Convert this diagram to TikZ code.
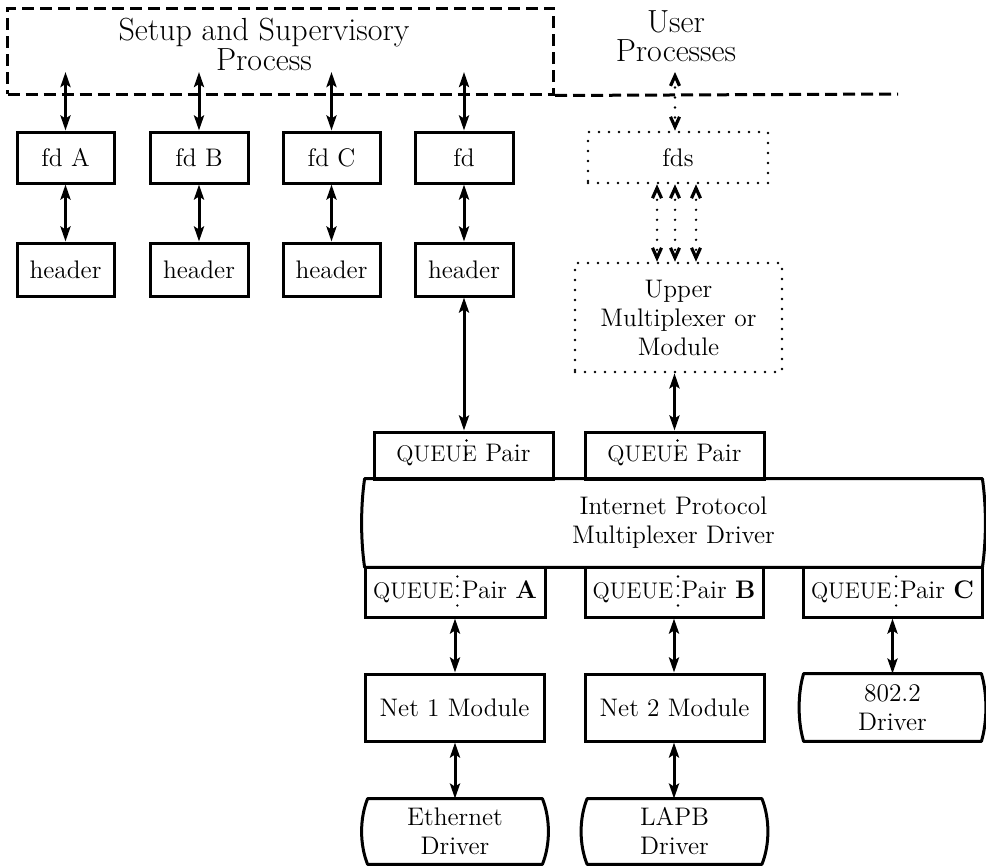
\documentclass[tikz,border=0pt]{standalone}
\usetikzlibrary{arrows.meta,calc}
\newcommand\drvshape[3]{\draw[line width=1.5pt,line join=round] (#1.north west) -- (#1.north east) .. controls +(#2,-#3) and +(#2,#3) .. (#1.south east) -- (#1.south west) .. controls +(-#2,#3) and +(-#2,-#3) .. (#1.north west) -- cycle;}
\newcommand\qq{{\fontsize{11.3}{12}\selectfont QUEUE}}
\begin{document}
\begin{tikzpicture}[x=0.5pt,y=-0.5pt,
  box/.style={draw,line width=1.5pt,inner sep=0pt,align=center,font=\fontsize{12.7}{14.5}\selectfont},
  plainbox/.style={draw=none,inner sep=0pt,align=center,font=\fontsize{12.7}{14.5}\selectfont},
  dotbox/.style={draw,line width=1.3pt,dash pattern=on 0pt off 5pt,line cap=round,inner sep=0pt,align=center,font=\fontsize{12.7}{14.5}\selectfont},
  dashbox/.style={draw,line width=1.5pt,dash pattern=on 6pt off 3pt,inner sep=0pt},
  bigtext/.style={inner sep=0pt,align=center},
  biarrow/.style={line width=1.5pt,{Stealth[length=7.5pt,width=5pt,inset=1.5pt]}-{Stealth[length=7.5pt,width=5pt,inset=1.5pt]}},
  dotarrow/.style={line width=1.3pt,dash pattern=on 0pt off 5pt,line cap=round,{Straight Barb[length=5pt,width=4.5pt,line width=1.6pt]}-{Straight Barb[length=5pt,width=4.5pt,line width=1.6pt]}},
  dashline/.style={line width=1.5pt,dash pattern=on 6pt off 3pt},
  divup/.style={line width=1.3pt,line cap=round,dash pattern=on 0pt off 7pt},
  divlow/.style={line width=1.3pt,line cap=round,dash pattern=on 0pt off 4.83pt}
]
\useasboundingbox (0,0) rectangle (986,867);

% top region
\node[dashbox,minimum width=273pt,minimum height=43pt] (setup) at (280.5,51) {};
\node[bigtext,font=\fontsize{16}{15}\selectfont] (setuptxt) at (264,44) {Setup and Supervisory\\Process};
\node[bigtext,font=\fontsize{16}{14.5}\selectfont] (usertxt) at (676,36) {User\\Processes};
\coordinate (dend) at (898,94);
\draw[dashline] (setup.south east) -- (dend);

% fd boxes
\node[box,minimum width=48.5pt,minimum height=25.5pt] (fdA) at (65.5,157.5) {fd A};
\node[box,minimum width=49pt,minimum height=25.5pt] (fdB) at (199,157.5) {fd B};
\node[box,minimum width=48.5pt,minimum height=25.5pt] (fdC) at (331.5,157.5) {fd C};
\node[box,minimum width=49pt,minimum height=25.5pt] (fdD) at (464,157.5) {fd};
\node[box,minimum width=48.5pt,minimum height=26.5pt] (hdA) at (65.5,269.5) {header};
\node[box,minimum width=49pt,minimum height=26.5pt] (hdB) at (199,269.5) {header};
\node[box,minimum width=48.5pt,minimum height=26.5pt] (hdC) at (331.5,269.5) {header};
\node[box,minimum width=49pt,minimum height=26.5pt] (hdD) at (464,269.5) {header};

\node[dotbox,minimum width=90pt,minimum height=25.5pt] (fds) at (678,157.5) {fds};
\node[dotbox,minimum width=103.5pt,minimum height=54.5pt] (upper) at (678.5,317.5) {Upper\\Multiplexer or\\Module};

% queue pairs and IP
\node[box,minimum width=89.5pt,minimum height=23.5pt] (qp1) at (463.5,455.5) {\qq\ Pair};
\node[box,minimum width=89.5pt,minimum height=23.5pt] (qp2) at (674.5,455.5) {\qq\ Pair};
\node[plainbox,minimum width=308.5pt,minimum height=44pt] (ip) at (673.5,523) {Internet Protocol\\Multiplexer Driver};
\drvshape{ip}{2pt}{14pt}
\node[box,minimum width=90pt,minimum height=25pt] (qa) at (455,592) {\qq\ Pair \textbf{A}};
\node[box,minimum width=89pt,minimum height=25pt] (qb) at (674,592) {\qq\ Pair \textbf{B}};
\node[box,minimum width=89.5pt,minimum height=25pt] (qc) at (892.5,592) {\qq\ Pair \textbf{C}};

% dotted dividers
\draw[divup] ([xshift=1.5pt,yshift=-5pt]qp1.north) -- ([xshift=1.5pt,yshift=-19pt]qp1.north);
\draw[divup] ([xshift=1.5pt,yshift=-5pt]qp2.north) -- ([xshift=1.5pt,yshift=-19pt]qp2.north);
\draw[divlow] ([xshift=1.2pt,yshift=-5.5pt]qa.north) -- ([xshift=1.2pt,yshift=-20pt]qa.north);
\draw[divlow] ([xshift=2pt,yshift=-5.5pt]qb.north) -- ([xshift=2pt,yshift=-20pt]qb.north);
\draw[divlow] ([xshift=1.8pt,yshift=-5.5pt]qc.north) -- ([xshift=1.8pt,yshift=-20pt]qc.north);

% modules and drivers
\node[box,minimum width=89.5pt,minimum height=33.5pt] (net1) at (454.5,707.5) {Net 1 Module};
\node[box,minimum width=89.5pt,minimum height=33.5pt] (net2) at (674.5,707.5) {Net 2 Module};
\node[plainbox,minimum width=88.5pt,minimum height=33.5pt] (drvC) at (892.5,707.5) {802.2\\Driver};
\drvshape{drvC}{3pt}{10pt}
\node[plainbox,minimum width=87pt,minimum height=32.5pt] (eth) at (455,831.5) {Ethernet\\Driver};
\drvshape{eth}{4pt}{10pt}
\node[plainbox,minimum width=87pt,minimum height=32.5pt] (lapb) at (674.5,831.5) {LAPB\\Driver};
\drvshape{lapb}{4pt}{10pt}

% connectors
\coordinate (sA) at (65.5,72);
\coordinate (sB) at (199,72);
\coordinate (sC) at (331.5,72);
\coordinate (sD) at (464,72);
\coordinate (su) at (675,72);
\draw[biarrow] (sA) -- (fdA.north);
\draw[biarrow] (sB) -- (fdB.north);
\draw[biarrow] (sC) -- (fdC.north);
\draw[biarrow] (sD) -- (fdD.north);
\draw[biarrow] (fdA) -- (hdA);
\draw[biarrow] (fdB) -- (hdB);
\draw[biarrow] (fdC) -- (hdC);
\draw[biarrow] (fdD) -- (hdD);
\draw[biarrow] (hdD.south) -- (hdD.south |- qp1.north);
\draw[dotarrow] (su) -- (su |- fds.north);
\draw[dotarrow] ([xshift=-10.5pt]fds.south) -- ([xshift=-10.5pt]fds.south |- upper.north);
\draw[dotarrow] ([xshift=-1.5pt]fds.south) -- ([xshift=-1.5pt]fds.south |- upper.north);
\draw[dotarrow] ([xshift=9pt]fds.south) -- ([xshift=9pt]fds.south |- upper.north);
\draw[biarrow] (qp2.north |- upper.south) -- (qp2.north);
\draw[biarrow] (qa.south) -- (qa.south |- net1.north);
\draw[biarrow] (qa.south |- net1.south) -- (qa.south |- eth.north);
\draw[biarrow] (qb.south) -- (qb.south |- net2.north);
\draw[biarrow] (qb.south |- net2.south) -- (qb.south |- lapb.north);
\draw[biarrow] (qc.south) -- (qc.south |- drvC.north);
\end{tikzpicture}
\end{document}
